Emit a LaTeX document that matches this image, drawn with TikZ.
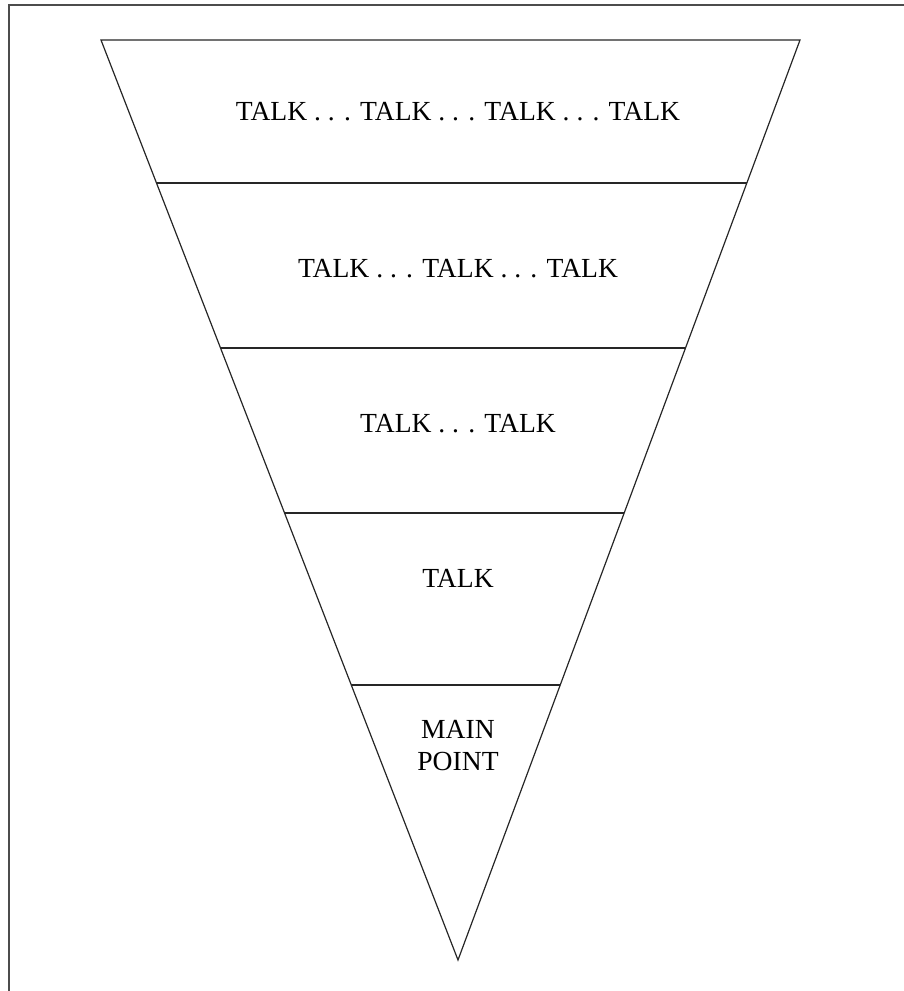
\documentclass[tikz,border=0pt]{standalone}
\usepackage{fontspec}
\setmainfont{Liberation Serif}
\usetikzlibrary{calc}
\begin{document}
\begin{tikzpicture}[x=0.5pt,y=-0.5pt,line width=0.6pt]
  \tikzstyle{band}=[font=\fontsize{13.8}{16}\selectfont,anchor=base,inner sep=0pt]
  \useasboundingbox (0,0) rectangle (904,991);
  \draw[black!70,line width=0.8pt] (9,991) -- (9,5) -- (904,5);
  \coordinate (TL) at (101,40);
  \coordinate (TR) at (800,40);
  \coordinate (TIP) at (458,960);
  \draw[black!85,line join=miter] (TL) -- (TR) -- (TIP) -- cycle;
  \foreach \t in {0.1554,0.3348,0.5141,0.7011}
    \draw[black!85] ($(TL)!\t!(TIP)$) -- ($(TR)!\t!(TIP)$);
  \node[band] (T1) at (458,120) {TALK . . . TALK . . . TALK . . . TALK};
  \node[band] (T2) at (458,277) {TALK . . . TALK . . . TALK};
  \node[band] (T3) at (458,432) {TALK . . . TALK};
  \node[band] (T4) at (458,587) {TALK};
  \node[band] (T5) at (458,738) {MAIN};
  \node[band] (T6) at (458,770) {POINT};
\end{tikzpicture}
\end{document}
